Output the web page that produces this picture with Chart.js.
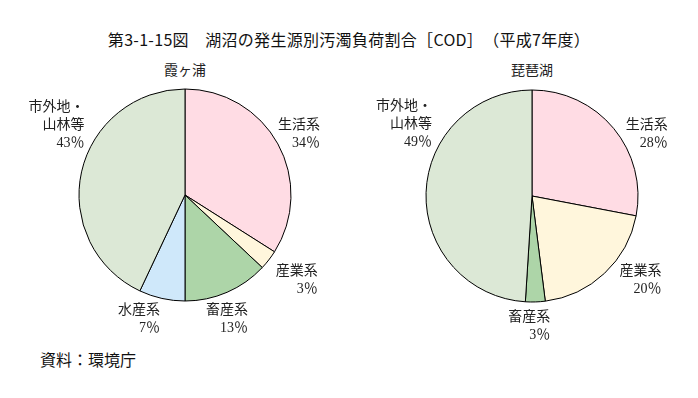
<!DOCTYPE html>
<html><head><meta charset="utf-8">
<script src="https://cdn.jsdelivr.net/npm/chart.js@4/dist/chart.umd.min.js"></script>
<style>
html,body{margin:0;padding:0;background:#fff;width:698px;height:398px;overflow:hidden}
#wrap{position:relative;width:698px;height:398px}
.t{position:absolute;white-space:nowrap;color:#000;line-height:20px;text-spacing-trim:space-all;font-feature-settings:"fwid" 1}
#title{left:0;width:698px;text-align:center;top:27px;font:400 16px "Noto Sans CJK JP",sans-serif;letter-spacing:0.3px;color:#111}
.sub{top:59px;width:120px;text-align:center;font:400 14px "Noto Sans CJK JP",serif;color:#222}
#src{left:40px;top:347px;font:400 16px "Noto Sans CJK JP",sans-serif;color:#111}
canvas{position:absolute;top:0}
</style></head><body>
<div id="wrap">
<div class="t" id="title">第3-1-15図　湖沼の発生源別汚濁負荷割合［COD］（平成7年度）</div>
<div class="t sub" style="left:125px">霞ヶ浦</div>
<div class="t sub" style="left:472px">琵琶湖</div>
<div class="t" id="src">資料：環境庁</div>
<canvas id="c1" width="349" height="398" style="left:0;width:349px;height:398px"></canvas>
<canvas id="c2" width="349" height="398" style="left:349px;width:349px;height:398px"></canvas>
</div>
<script>
// Data
const kasumiCategories = ['生活系', '産業系', '畜産系', '水産系', '市外地・\n山林等'];
const kasumiValues = [34, 3, 13, 7, 43];
const biwaCategories = ['生活系', '産業系', '畜産系', '市外地・\n山林等'];
const biwaValues = [28, 20, 3, 49];

// Styles
const colorMap = {'生活系':'#FFDCE4','産業系':'#FFF6DC','畜産系':'#ADD5A8','水産系':'#CFE8FA','市外地・\n山林等':'#DCE8D6'};
const kasumiLabelOffsets = [[42,-19],[49,11],[21,18],[-2,12],[3,-65]];
const biwaLabelOffsets = [[54,-3],[57,-2],[15,15],[6,-86]];

const labelPlugin = {
  id: 'sliceLabels',
  afterDraw(chart, args, opts) {
    const ctx = chart.ctx;
    const meta = chart.getDatasetMeta(0);
    const data = chart.data.datasets[0].data;
    ctx.save();
    ctx.font = '14px "Liberation Serif","Noto Sans CJK JP",serif';
    ctx.fillStyle = '#222';
    ctx.textAlign = 'right';
    ctx.textBaseline = 'middle';
    meta.data.forEach((arc, i) => {
      const p = arc.getProps(['x','y','startAngle','endAngle','outerRadius'], true);
      const a = (p.startAngle + p.endAngle) / 2;
      const off = opts.offsets[i] || [0,0];
      const x = p.x + p.outerRadius * Math.cos(a) + off[0];
      const y = p.y + p.outerRadius * Math.sin(a) + off[1];
      const lines = chart.data.labels[i].split('\n').concat([data[i] + '％']);
      lines.forEach((ln, k) => ctx.fillText(ln, x, y + k * 18));
    });
    ctx.restore();
  }
};

function makePie(id, cats, vals, offsets, pad) {
  return new Chart(document.getElementById(id), {
    type: 'pie',
    data: {
      labels: cats,
      datasets: [{
        data: vals,
        backgroundColor: cats.map(c => colorMap[c]),
        borderColor: '#000',
        borderWidth: 1,
        borderAlign: 'center'
      }]
    },
    options: {
      responsive: false,
      animation: false,
      layout: { padding: pad },
      plugins: {
        legend: { display: false },
        tooltip: { enabled: false },
        sliceLabels: { offsets: offsets }
      }
    },
    plugins: [labelPlugin]
  });
}

makePie('c1', kasumiCategories, kasumiValues, kasumiLabelOffsets, {left:78.5, right:57.5, top:88.5, bottom:96.5});
makePie('c2', biwaCategories, biwaValues, biwaLabelOffsets, {left:76.5, right:59.5, top:89.5, bottom:95.5});
</script>
</body></html>
